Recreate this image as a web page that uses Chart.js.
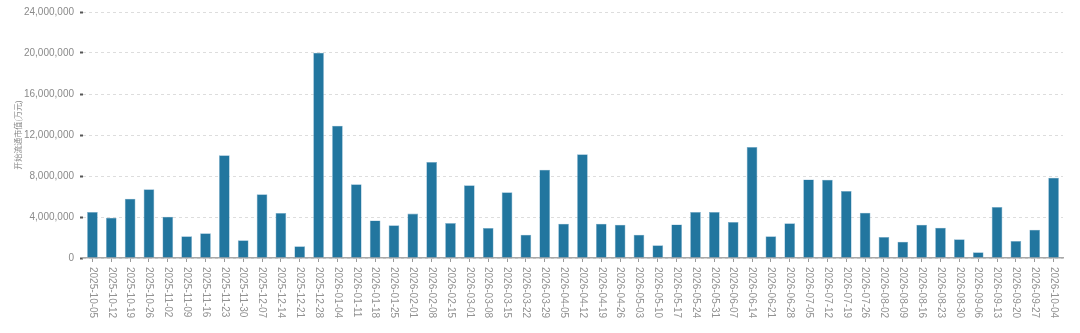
<!DOCTYPE html>
<html>
<head>
<meta charset="utf-8">
<script src="https://cdn.jsdelivr.net/npm/chart.js@4/dist/chart.umd.min.js"></script>
<style>
  html, body { margin: 0; padding: 0; background: #fff; }
  #wrap { width: 1080px; height: 333px; }
</style>
</head>
<body>
<div id="wrap"><canvas id="mvChart"></canvas></div>
<script>
// weekly dates (x axis)
const weeks = [
    "2025-10-05", "2025-10-12", "2025-10-19", "2025-10-26", "2025-11-02", "2025-11-09",
    "2025-11-16", "2025-11-23", "2025-11-30", "2025-12-07", "2025-12-14", "2025-12-21",
    "2025-12-28", "2026-01-04", "2026-01-11", "2026-01-18", "2026-01-25", "2026-02-01",
    "2026-02-08", "2026-02-15", "2026-03-01", "2026-03-08", "2026-03-15", "2026-03-22",
    "2026-03-29", "2026-04-05", "2026-04-12", "2026-04-19", "2026-04-26", "2026-05-03",
    "2026-05-10", "2026-05-17", "2026-05-24", "2026-05-31", "2026-06-07", "2026-06-14",
    "2026-06-21", "2026-06-28", "2026-07-05", "2026-07-12", "2026-07-19", "2026-07-26",
    "2026-08-02", "2026-08-09", "2026-08-16", "2026-08-23", "2026-08-30", "2026-09-06",
    "2026-09-13", "2026-09-20", "2026-09-27", "2026-10-04"
];

// 开始流通市值 (万元)
const marketValue = [
    4490000, 3930000, 5790000, 6700000, 4030000, 2110000,
    2410000, 10020000, 1720000, 6210000, 4390000, 1140000,
    20030000, 12910000, 7190000, 3670000, 3190000, 4330000,
    9370000, 3410000, 7090000, 2930000, 6410000, 2280000,
    8620000, 3350000, 10110000, 3350000, 3250000, 2280000,
    1240000, 3280000, 4490000, 4490000, 3510000, 10830000,
    2110000, 3380000, 7670000, 7640000, 6540000, 4420000,
    2050000, 1590000, 3250000, 2960000, 1820000, 550000,
    4980000, 1660000, 2760000, 7840000
];

const yTitle = "开始流通市值(万元)";
const yMax = 24000000;
const yStep = 4000000;

// draw the date labels rotated clockwise (top to bottom)
const downLabels = {
    id: "downLabels",
    afterDraw(chart) {
        const ctx = chart.ctx;
        const x = chart.scales.x;
        ctx.save();
        ctx.font = "10px 'Liberation Sans', Arial, sans-serif";
        ctx.fillStyle = "#929292";
        ctx.textAlign = "left";
        ctx.textBaseline = "middle";
        weeks.forEach((label, i) => {
            ctx.save();
            ctx.translate(x.getPixelForTick(i), x.top + 9);
            ctx.rotate(Math.PI / 2);
            ctx.fillText(label, 0, 0);
            ctx.restore();
        });
        ctx.restore();
    }
};

new Chart(document.getElementById("mvChart").getContext("2d"), {
    type: "bar",
    data: {
        labels: weeks,
        datasets: [{
            label: yTitle,
            data: marketValue,
            backgroundColor: "#22769f",
            borderColor: "#7fb0cc",
            borderWidth: 0.6,
            categoryPercentage: 0.8,
            barPercentage: 0.71
        }]
    },
    options: {
        responsive: true,
        maintainAspectRatio: false,
        animation: false,
        layout: { padding: { top: 7, right: 17, left: 13, bottom: 0 } },
        plugins: {
            legend: { display: false },
            tooltip: { enabled: false }
        },
        scales: {
            x: {
                offset: true,
                grid: {
                    offset: false,
                    drawOnChartArea: false,
                    drawTicks: true,
                    tickLength: 4,
                    tickColor: "#9a9a9a"
                },
                border: { display: true, color: "#a8a8a8", width: 1.5 },
                ticks: {
                    color: "rgba(0,0,0,0)",
                    font: { size: 10 },
                    minRotation: 90,
                    maxRotation: 90,
                    autoSkip: false
                },
                afterFit(scale) { scale.height = 75; }
            },
            y: {
                min: 0,
                max: yMax,
                border: { display: false, dash: [3, 3] },
                grid: {
                    color: "#dddddd",
                    tickColor: "#555",
                    tickLength: 3,
                    tickWidth: 2,
                    tickBorderDash: [],
                    lineWidth: 1
                },
                ticks: {
                    stepSize: yStep,
                    color: "#8a8a8a",
                    padding: 6,
                    font: { size: 10, family: "'Liberation Sans', Arial, sans-serif" },
                    callback: v => v.toLocaleString("en-US")
                },
                title: {
                    display: true,
                    text: yTitle,
                    color: "#8a8a8a",
                    font: { size: 8, family: "'Noto Sans CJK SC', sans-serif" },
                    padding: { top: 0, bottom: 0 }
                },
                afterFit(scale) { scale.width = 70; }
            }
        }
    },
    plugins: [downLabels]
});
</script>
</body>
</html>
